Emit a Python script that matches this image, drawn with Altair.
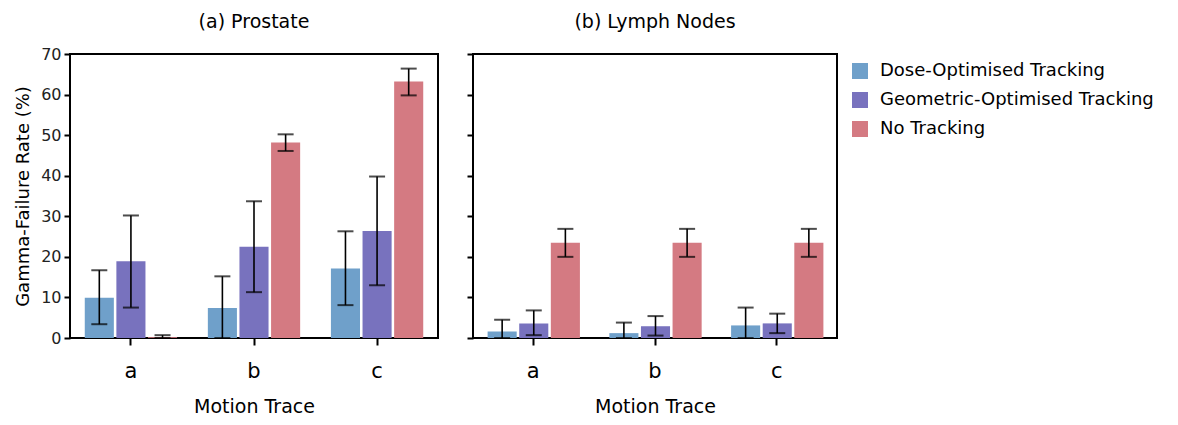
import altair as alt
import pandas as pd

traces = ["a", "b", "c"]
methods = ["Dose-Optimised Tracking", "Geometric-Optimised Tracking", "No Tracking"]
colors = ["#6fa0ca", "#7872be", "#d47a82"]

# Prostate: values per trace for each method
pro_dose = [9.9, 7.4, 17.1]
pro_dose_lo = [3.4, 0.0, 8.1]
pro_dose_hi = [16.7, 15.2, 26.3]
pro_geo = [18.9, 22.5, 26.4]
pro_geo_lo = [7.5, 11.3, 13.0]
pro_geo_hi = [30.2, 33.7, 39.8]
pro_none = [0.2, 48.2, 63.2]
pro_none_lo = [0.0, 46.1, 59.8]
pro_none_hi = [0.7, 50.2, 66.4]

# Lymph nodes
ln_dose = [1.6, 1.2, 3.1]
ln_dose_lo = [0.0, 0.0, 0.0]
ln_dose_hi = [4.5, 3.8, 7.5]
ln_geo = [3.6, 2.9, 3.6]
ln_geo_lo = [0.7, 0.6, 1.2]
ln_geo_hi = [6.8, 5.4, 6.0]
ln_none = [23.5, 23.5, 23.5]
ln_none_lo = [20.0, 20.0, 20.0]
ln_none_hi = [26.9, 26.9, 26.9]


def make_df(series):
    rows = []
    for m, (v, lo, hi) in zip(methods, series):
        for t, a, b, c in zip(traces, v, lo, hi):
            rows.append({"trace": t, "method": m, "value": a, "lo": b, "hi": c})
    return pd.DataFrame(rows)


df_pro = make_df([(pro_dose, pro_dose_lo, pro_dose_hi),
                  (pro_geo, pro_geo_lo, pro_geo_hi),
                  (pro_none, pro_none_lo, pro_none_hi)])
df_ln = make_df([(ln_dose, ln_dose_lo, ln_dose_hi),
                 (ln_geo, ln_geo_lo, ln_geo_hi),
                 (ln_none, ln_none_lo, ln_none_hi)])

FONT = "DejaVu Sans"


def panel(df, title, show_y_labels, width):
    x = alt.X("trace:N", title="Motion Trace",
              scale=alt.Scale(paddingInner=0.25, paddingOuter=0.12),
              axis=alt.Axis(labelAngle=0, labelFontSize=21, labelPadding=15,
                            titleFontSize=19, titlePadding=16, tickSize=7,
                            tickColor="black", tickWidth=2, domain=False,
                            labelColor="black", titleColor="black",
                            titleFontWeight="normal"))
    yscale = alt.Scale(domain=[0, 70], nice=False)
    yaxis = alt.Axis(values=list(range(0, 71, 10)),
                     title="Gamma-Failure Rate (%)" if show_y_labels else "",
                     labelFontSize=16, titleFontSize=18, tickSize=6, tickWidth=2,
                     tickColor="black", domain=False, grid=False,
                     labelColor="#222222" if show_y_labels else "transparent",
                     titleColor="black",
                     titleFontWeight="normal", labelPadding=3, titlePadding=8)
    xoff = alt.XOffset("method:N", sort=methods, scale=alt.Scale(paddingInner=0.08))
    base = alt.Chart(df)
    bars = base.mark_bar(opacity=1).encode(
        x=x,
        xOffset=xoff,
        y=alt.Y("value:Q", scale=yscale, axis=yaxis),
        color=alt.Color("method:N", sort=methods,
                        scale=alt.Scale(domain=methods, range=colors),
                        legend=alt.Legend(title=None, symbolType="square",
                                          symbolSize=256, labelFontSize=18,
                                          symbolStrokeWidth=0, symbolOpacity=1,
                                          labelColor="black", rowPadding=11,
                                          labelLimit=0, labelOffset=11,
                                          offset=5, padding=8)),
    )
    rule = base.mark_rule(color="black", strokeWidth=1.6).encode(
        x=x, xOffset=xoff, y="lo:Q", y2="hi:Q")
    cap_lo = base.mark_tick(color="black", thickness=2, size=16).encode(
        x=x, xOffset=xoff, y="lo:Q")
    cap_hi = base.mark_tick(color="black", thickness=2, size=16).encode(
        x=x, xOffset=xoff, y="hi:Q")
    return alt.layer(bars, rule, cap_lo, cap_hi).properties(
        width=width, height=284,
        title=alt.TitleParams(title, fontSize=19, fontWeight="normal",
                              color="black", offset=14))


left = panel(df_pro, "(a) Prostate", True, 368)
right = panel(df_ln, "(b) Lymph Nodes", False, 364)

chart = alt.hconcat(left, right, spacing=35, bounds="flush").properties(
    padding={"left": 5, "right": 0, "top": 4, "bottom": 0}
).configure(
    font=FONT
).configure_view(
    stroke="black", strokeWidth=2
).configure_axis(
    labelFont=FONT, titleFont=FONT
).configure_title(
    font=FONT
).configure_legend(
    labelFont=FONT
)

chart.save("out.html", embed_options={"renderer": "svg", "actions": False})
